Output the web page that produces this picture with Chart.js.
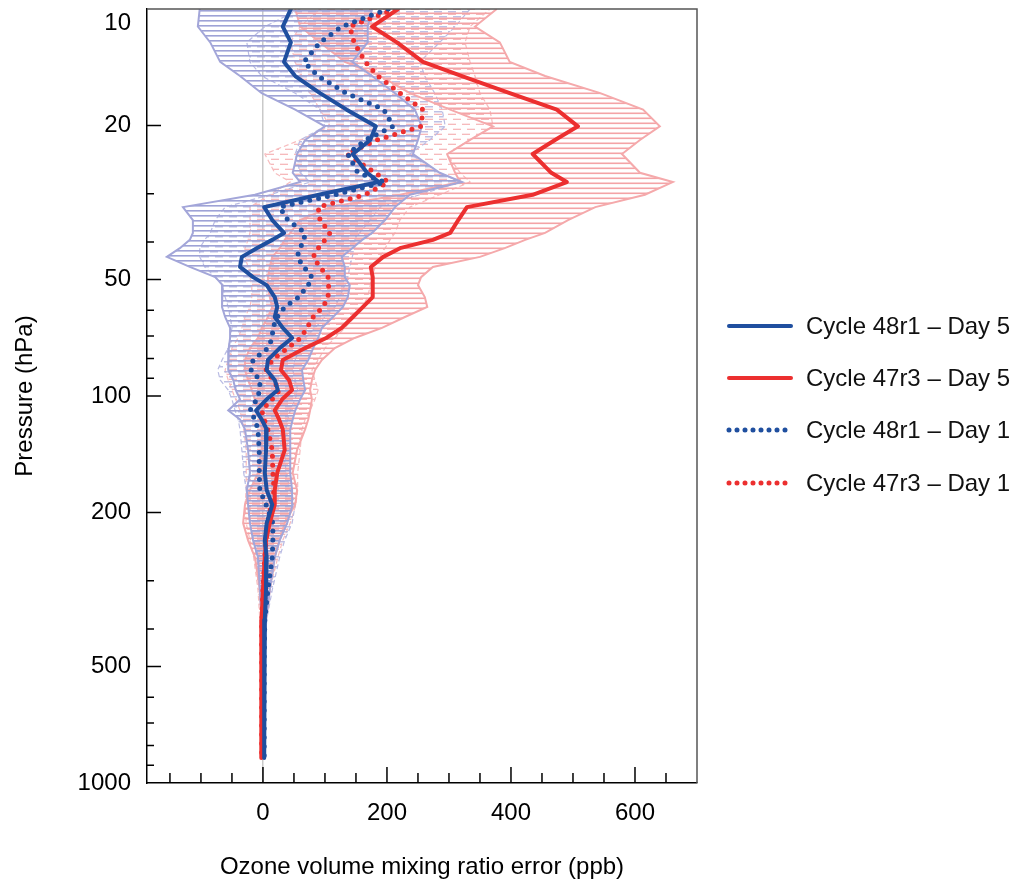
<!DOCTYPE html>
<html>
<head>
<meta charset="utf-8">
<script src="https://cdn.jsdelivr.net/npm/chart.js@4.4.1/dist/chart.umd.min.js"></script>
<style>
  html, body { margin: 0; padding: 0; background: #fff; }
  #chart { display: block; }
</style>
</head>
<body>
<canvas id="chart" width="1014" height="882"></canvas>
<script>
// pressure levels (hPa), top of the plot to the bottom
const levels = [10, 11.1, 12.2, 13.7, 14.9, 16.5, 18.2, 20.1, 21.8, 23.7,
  26.5, 28, 30.2, 32.5, 35.1, 37.9, 39.5, 41.5, 43.7, 46.4,
  49.3, 51.7, 55.5, 58.9, 62.5, 66.7, 70.8, 75.2, 80.7, 85.7,
  90.9, 96.5, 102, 109, 115, 122, 138, 158, 175, 191,
  213, 236, 261, 317, 379, 481, 610, 862];

// mean ozone error (ppb)
const blueDay5 = [45, 32, 45, 34, 52, 92, 135, 182, 173, 145, 168, 187,
  90, 2, 15, 34, 15, -10, -34, -37, -16, 6,
  19, 23, 19, 32, 47, 27, 8, 6, 19, 24,
  6, -11, -2, 6, 5, 3, 6, 15, 6, 3,
  6, 5, 3, 2, 2, 2];
const redDay5 = [218, 176, 216, 258, 321, 398, 474, 508, 471, 435, 465, 490,
  435, 329, 315, 302, 274, 221, 194, 174, 177, 177,
  177, 161, 145, 127, 102, 68, 32, 29, 42, 47,
  31, 19, 26, 32, 35, 23, 19, 19, 11, 5,
  3, 0, -2, -3, -3, -2];
const blueDay1 = [202, 127, 92, 66, 89, 134, 195, 210, 165, 137, 153, 197,
  116, 27, 40, 68, 66, 60, 55, 66, 79, 73,
  58, 35, 23, 16, 15, 8, -16, -19, -5, -5,
  -10, -21, -13, -8, -6, -6, -5, 5, 16, 16,
  15, 8, 3, 2, 2, 2];
const redDay1 = [213, 140, 147, 165, 185, 221, 258, 255, 184, 135, 181, 202,
  165, 89, 92, 108, 100, 89, 81, 92, 105, 106,
  105, 97, 81, 71, 61, 40, 15, 5, 16, 27,
  15, -2, 2, 8, 15, 16, 18, 13, 8, 5,
  3, 0, -2, -2, -2, -2];

// spread envelopes (left / right edge, ppb)
const blueDay5Lo = [-102, -105, -85, -69, -37, -2, 52, 100, 68, 55, 48, 60,
  -13, -129, -113, -113, -118, -134, -155, -118, -77, -65,
  -66, -66, -61, -53, -53, -55, -56, -56, -48, -44,
  -37, -56, -37, -29, -24, -21, -26, -24, -21, -16,
  -8, -5, -2, 0, 0, 0];
const blueDay5Hi = [176, 169, 169, 144, 176, 213, 245, 256, 250, 242, 285, 321,
  237, 213, 197, 176, 160, 144, 127, 132, 132, 140,
  137, 129, 113, 95, 89, 81, 73, 63, 65, 68,
  60, 52, 48, 44, 44, 44, 47, 48, 39, 27,
  19, 11, 5, 3, 3, 3];
const redDay5Lo = [52, 60, 92, 132, 189, 237, 302, 371, 334, 297, 310, 318,
  221, 108, 60, 44, 35, 27, 15, 11, 8, 8,
  11, 15, 8, -2, -8, -21, -29, -29, -24, -18,
  -13, -8, -5, -2, -2, -8, -21, -29, -32, -24,
  -13, -5, -2, -2, -2, -2];
const redDay5Hi = [377, 342, 382, 398, 455, 544, 613, 640, 608, 579, 608, 661,
  616, 536, 492, 455, 423, 390, 350, 274, 255, 250,
  261, 265, 229, 192, 148, 116, 95, 84, 79, 76,
  79, 76, 73, 68, 55, 48, 55, 52, 35, 27,
  19, 11, 5, 0, 0, 0];
const blueDay1Lo = [60, 3, -26, -21, -2, 52, 92, 100, 60, 52, 60, 76,
  11, -61, -77, -85, -94, -102, -102, -94, -77, -66,
  -61, -56, -53, -50, -53, -56, -66, -73, -69, -56,
  -50, -45, -40, -37, -34, -31, -27, -24, -21, -15,
  -10, -5, -2, 0, 0, 0];
const blueDay1Hi = [334, 310, 285, 253, 261, 277, 289, 294, 269, 237, 285, 318,
  253, 189, 173, 156, 148, 148, 144, 140, 137, 132,
  124, 116, 100, 84, 68, 60, 52, 48, 52, 56,
  52, 44, 40, 37, 35, 37, 44, 52, 47, 35,
  27, 15, 6, 3, 3, 3];
const redDay1Lo = [92, 60, 44, 52, 60, 76, 92, 108, 60, 3, 19, 44,
  11, -21, -21, -21, -24, -29, -29, -24, -21, -18,
  -18, -21, -29, -34, -40, -50, -56, -61, -56, -50,
  -44, -37, -34, -31, -27, -27, -27, -29, -27, -21,
  -15, -8, -5, -3, -3, -3];
const redDay1Hi = [366, 334, 326, 334, 342, 350, 366, 371, 334, 297, 318, 334,
  285, 237, 221, 213, 205, 197, 189, 181, 176, 173,
  169, 160, 148, 132, 116, 100, 89, 79, 84, 89,
  84, 76, 68, 63, 60, 56, 56, 53, 44, 32,
  24, 11, 5, 0, 0, 0];

// axis ticks
const xTicks = [-150, -100, -50, 0, 50, 100, 150, 200, 250, 300, 350, 400, 450, 500, 550, 600, 650];
const xLabels = [0, 200, 400, 600];
const yTicks = [10, 20, 30, 40, 50, 60, 70, 80, 90, 100, 200, 300, 400, 500, 600, 700, 800, 900, 1000];
const yLabels = [10, 20, 50, 100, 200, 500, 1000];

const FONT = "'Liberation Sans', Arial, Helvetica, sans-serif";
Chart.defaults.font.family = FONT;
Chart.defaults.color = '#000';

// horizontal hatch patterns (solid rows, or staggered dashes)
function hatch(color, offset, dash) {
  const tile = document.createElement('canvas');
  tile.width = dash ? 14 : 4;
  tile.height = dash ? 10 : 5;
  const c = tile.getContext('2d');
  c.fillStyle = color;
  if (dash) {
    c.fillRect(0, offset, 8, 1.2);
    c.fillRect(5, offset + 5, 8, 1.2);
  } else {
    c.fillRect(0, offset, 4, 1.6);
  }
  return c.createPattern(tile, 'repeat');
}

const profile = vals => levels.map((p, i) => ({x: vals[i], y: p}));
const envelope = (lo, hi) => profile(lo).concat(profile(hi).reverse());

function lineSet(label, vals, color, dotted, order) {
  return {
    label: label, data: profile(vals), borderColor: color, backgroundColor: color,
    borderWidth: dotted ? 5 : 4, borderDash: dotted ? [0, 9] : [],
    borderCapStyle: 'round', borderJoinStyle: 'round',
    pointRadius: 0, fill: false, order: order, legend: true
  };
}

function envSet(lo, hi, color, pattern, dashed, order) {
  return {
    label: '', data: envelope(lo, hi), borderColor: color, backgroundColor: pattern,
    borderWidth: dashed ? 1.2 : 2, borderDash: dashed ? [5, 3] : [],
    pointRadius: 0, fill: 'shape', order: order
  };
}

const frame = {
  id: 'frame',
  afterDraw(chart) {
    const {ctx, chartArea: a, scales: {x, y}} = chart;
    ctx.save();
    // inward tick marks
    ctx.strokeStyle = '#000';
    ctx.lineWidth = 1.5;
    ctx.beginPath();
    x.ticks.forEach(t => {
      const px = x.getPixelForValue(t.value);
      const len = xLabels.includes(t.value) ? 16 : 10;
      ctx.moveTo(px, a.bottom);
      ctx.lineTo(px, a.bottom - len);
    });
    y.ticks.forEach(t => {
      if (t.value === 10 || t.value === 1000) return;
      const py = y.getPixelForValue(t.value);
      const len = yLabels.includes(t.value) ? 14 : 7;
      ctx.moveTo(a.left, py);
      ctx.lineTo(a.left + len, py);
    });
    ctx.stroke();
    // top and right frame
    ctx.strokeStyle = '#555';
    ctx.beginPath();
    ctx.moveTo(a.left, a.top);
    ctx.lineTo(a.right, a.top);
    ctx.lineTo(a.right, a.bottom);
    ctx.stroke();
    // legend
    const rows = [326, 378, 430, 483];
    chart.data.datasets.filter(d => d.legend).forEach((d, i) => {
      ctx.setLineDash(d.borderDash.length ? [0, 8] : []);
      ctx.lineCap = 'round';
      ctx.lineWidth = d.borderWidth;
      ctx.strokeStyle = d.borderColor;
      ctx.beginPath();
      ctx.moveTo(729, rows[i]);
      ctx.lineTo(791, rows[i]);
      ctx.stroke();
      ctx.setLineDash([]);
      ctx.fillStyle = '#111';
      ctx.font = '24px ' + FONT;
      ctx.textBaseline = 'middle';
      ctx.fillText(d.label, 806, rows[i] + 1);
    });
    ctx.restore();
  }
};

const BLUE = '#1f4f9f';
const RED = '#ec2f2f';

new Chart(document.getElementById('chart'), {
  type: 'line',
  data: {
    datasets: [
      lineSet('Cycle 48r1 – Day 5', blueDay5, BLUE, false, 0),
      lineSet('Cycle 47r3 – Day 5', redDay5, RED, false, 1),
      lineSet('Cycle 48r1 – Day 1', blueDay1, BLUE, true, 2),
      lineSet('Cycle 47r3 – Day 1', redDay1, RED, true, 3),
      envSet(blueDay5Lo, blueDay5Hi, '#a3a6d9', hatch('#9ea2d6', 0, false), false, 4),
      envSet(redDay5Lo, redDay5Hi, '#f5a9ab', hatch('#f4a3a6', 2.5, false), false, 5),
      envSet(blueDay1Lo, blueDay1Hi, '#b9bbe3', hatch('#aeb1de', 1.2, true), true, 6),
      envSet(redDay1Lo, redDay1Hi, '#f7bcbe', hatch('#f5b3b5', 3.7, true), true, 7)
    ]
  },
  options: {
    responsive: false,
    animation: false,
    layout: {padding: {left: 0, top: 9, right: 317, bottom: 0}},
    plugins: {legend: {display: false}, tooltip: {enabled: false}},
    scales: {
      x: {
        type: 'linear',
        min: -187,
        max: 700,
        afterBuildTicks: s => { s.ticks = xTicks.map(v => ({value: v})); },
        afterFit: s => { s.height = 99; s.paddingLeft = 0; s.paddingRight = 0; },
        ticks: {
          autoSkip: false, maxRotation: 0, padding: 16, color: '#000',
          font: {size: 24},
          callback: v => xLabels.includes(v) ? String(v) : ''
        },
        grid: {
          drawTicks: false, lineWidth: 1.5,
          color: c => (c.tick && c.tick.value === 0) ? '#c9c9c9' : 'rgba(0,0,0,0)'
        },
        border: {color: '#000', width: 1.5},
        title: {
          display: true, text: 'Ozone volume mixing ratio error (ppb)', color: '#000',
          font: {size: 24}, padding: {top: 0, bottom: 0}
        }
      },
      y: {
        type: 'logarithmic',
        reverse: true,
        min: 10,
        max: 1000,
        afterBuildTicks: s => { s.ticks = yTicks.map(v => ({value: v})); },
        afterFit: s => { s.width = 147; s.paddingTop = 0; s.paddingBottom = 0; },
        ticks: {
          autoSkip: false, padding: 16, color: '#000',
          font: {size: 24},
          callback: v => v === 10 ? ['', '10'] : (yLabels.includes(v) ? String(v) : '')
        },
        grid: {display: false, drawTicks: false},
        border: {color: '#000', width: 1.5},
        title: {
          display: true, text: 'Pressure (hPa)', color: '#000',
          font: {size: 24}, padding: {top: 11, bottom: 0}
        }
      }
    }
  },
  plugins: [frame]
});
</script>
</body>
</html>
